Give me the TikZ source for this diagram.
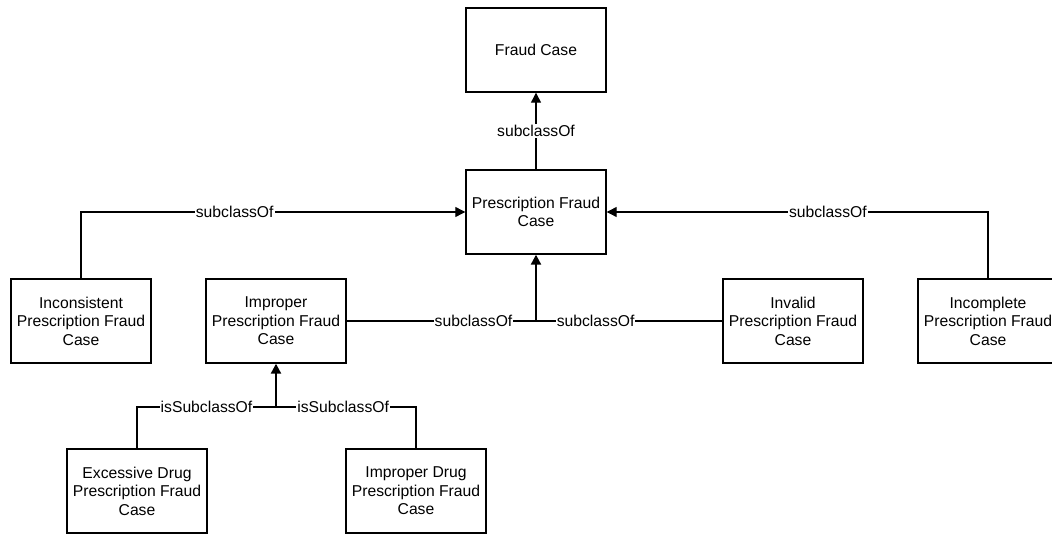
\documentclass[tikz,border=0pt]{standalone}
\usepackage{fontspec}
\setmainfont{Liberation Sans}
\usetikzlibrary{arrows.meta}
\tikzset{%
  >={Triangle[width=10pt,length=10pt]},
  % Specifications for style of nodes:
       classbox/.style = {rectangle, draw=black, line width=1.4pt,
                          minimum width=140pt, minimum height=84pt,
                          inner sep=0pt, align=center},
       rellabel/.style = {fill=white, inner sep=1pt},
        relline/.style = {line width=1.2pt},
       mainline/.style = {line width=2.2pt},
}

\begin{document}
\begin{tikzpicture}[x=1pt, y=-1pt,
    every node/.style={font=\fontsize{15.7}{18.5}\selectfont}]
  \useasboundingbox (0,0) rectangle (1052,534);

  \node (fraud)        [classbox] at (536,50)  {Fraud Case};
  \node (prescr)       [classbox] at (536,212) {Prescription Fraud\\Case};
  \node (inconsistent) [classbox] at (81,321)  {Inconsistent\\Prescription Fraud\\Case};
  \node (improper)     [classbox] at (276,321) {Improper\\Prescription Fraud\\Case};
  \node (invalid)      [classbox] at (793,321) {Invalid\\Prescription Fraud\\Case};
  \node (incomplete)   [classbox] at (988,321) {Incomplete\\Prescription Fraud\\Case};
  \node (excessive)    [classbox] at (137,491) {Excessive Drug\\Prescription Fraud\\Case};
  \node (impdrug)      [classbox] at (416,491) {Improper Drug\\Prescription Fraud\\Case};

  \coordinate (join)    at (536,321);
  \coordinate (subjoin) at (276,407);

  \draw[->, relline] (prescr) -- node [rellabel] {subclassOf} (fraud);
  \draw[->, relline] (inconsistent.north) |- node [rellabel, pos=0.70] {subclassOf} (prescr.west);
  \draw[->, relline] (incomplete.north)   |- node [rellabel, pos=0.71] {subclassOf} (prescr.east);

  \draw[relline] (improper.east) -- node [rellabel, pos=0.67] {subclassOf} (join);
  \draw[relline] (invalid.west)  -- node [rellabel, pos=0.68] {subclassOf} (join);
  \draw[->, mainline] (join) -- (prescr.south);

  \draw[relline] (excessive.north) |- node [rellabel, pos=0.75] {isSubclassOf} (subjoin);
  \draw[relline] (impdrug.north)   |- node [rellabel, pos=0.76] {isSubclassOf} (subjoin);
  \draw[->, mainline] (subjoin) -- (improper.south);

\end{tikzpicture}
\end{document}
